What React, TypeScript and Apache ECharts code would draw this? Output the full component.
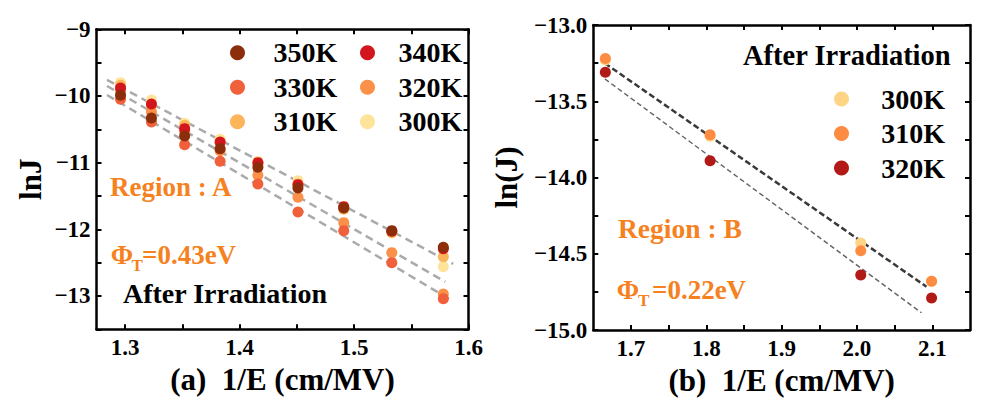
import { useEffect, useRef } from "react";
import * as echarts from "echarts";

// ---- data ----
const LEFT_X = [1.296, 1.323, 1.352, 1.383, 1.416, 1.451, 1.491, 1.533, 1.578];
const LEFT_350K = [-9.99, -10.33, -10.6, -10.79, -11.07, -11.38, -11.68, -12.02, -12.27];
const LEFT_340K = [-9.88, -10.12, -10.49, -10.69, -11.0, -11.33, -11.66, -12.03, -12.29];
const LEFT_330K = [-10.05, -10.39, -10.73, -10.98, -11.32, -11.74, -12.02, -12.5, -13.04];
const LEFT_320K = [-9.93, -10.24, -10.53, -10.82, -11.19, -11.52, -11.9, -12.35, -12.97];
const LEFT_310K = [-9.84, -10.15, -10.44, -10.7, -11.02, -11.32, -11.7, -12.05, -12.41];
const LEFT_300K = [-9.8, -10.06, -10.41, -10.65, -10.98, -11.27, -11.66, -12.04, -12.56];
const LEFT_FIT_TOP = [[1.2842, -9.76], [1.5866, -12.519]];
const LEFT_FIT_MID = [[1.2842, -9.85], [1.5797, -12.789]];
const LEFT_FIT_LOW = [[1.2842, -9.985], [1.5858, -13.073]];

const RIGHT_X = [1.666, 1.805, 2.005, 2.099];
const RIGHT_300K = [-13.23, -13.73, -14.43, -14.68];
const RIGHT_310K = [-13.22, -13.72, -14.48, -14.68];
const RIGHT_320K = [-13.31, -13.89, -14.64, -14.79];
const RIGHT_FIT_A = [[1.6654, -13.251], [2.0922, -14.716]];
const RIGHT_FIT_B = [[1.6654, -13.354], [2.0856, -14.887]];

const LEFT_X_LABELS = [1.3, 1.4, 1.5, 1.6];
const LEFT_X_TICKS = [1.3, 1.35, 1.4, 1.45, 1.5, 1.55, 1.6];
const LEFT_Y_LABELS = [-13, -12, -11, -10, -9];
const LEFT_Y_TICKS = [-13.5, -13, -12.5, -12, -11.5, -11, -10.5, -10, -9.5, -9];
const RIGHT_X_LABELS = [1.7, 1.8, 1.9, 2.0, 2.1];
const RIGHT_X_TICKS = [1.7, 1.75, 1.8, 1.85, 1.9, 1.95, 2.0, 2.05, 2.1];
const RIGHT_Y_LABELS = [-15, -14.5, -14, -13.5, -13];
const RIGHT_Y_TICKS = [-15, -14.75, -14.5, -14.25, -14, -13.75, -13.5, -13.25, -13];

const LEGEND_LABELS: Record<string, string> = {
  a350: "350K", a340: "340K", a330: "330K", a320: "320K", a310: "310K", a300: "300K",
  b300: "300K", b310: "310K", b320: "320K",
};

const FONT = "'Liberation Serif', 'Times New Roman', serif";
const ORANGE = "#f5821f";

const pairs = (xs: number[], ys: number[]) => xs.map((x, i) => [x, ys[i]]);
const minus = (s: string) => s.replace("-", "\u2212");

function axis(
  grid: number,
  kind: "x" | "y",
  position: string,
  min: number,
  max: number,
  ticks: number[],
  labels: number[] | null,
  digits: number,
  name?: string,
  nameGap?: number,
) {
  return {
    type: "value",
    gridIndex: grid,
    position,
    min,
    max,
    name: name ?? "",
    nameLocation: "middle",
    nameGap: nameGap ?? 0,
    nameTextStyle: {
      fontFamily: FONT,
      fontWeight: "bold",
      fontSize: 31,
      color: "#000",
    },
    splitLine: { show: false },
    axisLine: { show: true, onZero: false, lineStyle: { color: "#000", width: 2.5 } },
    axisTick: {
      show: true,
      inside: true,
      length: 5,
      lineStyle: { color: "#000", width: 2 },
      customValues: ticks,
    },
    axisLabel: labels
      ? {
          show: true,
          customValues: labels,
          margin: kind === "x" ? 7 : 6,
          fontFamily: FONT,
          fontWeight: "bold",
          fontSize: 23,
          color: "#000",
          formatter: (v: number) => minus(v.toFixed(digits)),
        }
      : { show: false },
  };
}

function scatter(name: string, color: string, xi: number, xs: number[], ys: number[]) {
  return {
    type: "scatter",
    name,
    xAxisIndex: xi,
    yAxisIndex: xi,
    symbol: "circle",
    symbolSize: 11,
    itemStyle: { color, opacity: 1 },
    data: pairs(xs, ys),
    z: 3,
  };
}

function fit(xi: number, pts: number[][], color: string, width: number, dash: number[]) {
  return {
    type: "line",
    xAxisIndex: xi,
    yAxisIndex: xi,
    symbol: "none",
    silent: true,
    lineStyle: { color, width, type: dash },
    data: pts,
    z: 2,
  };
}

function text(x: number, y: number, t: string, color: string, size: number) {
  return {
    type: "text",
    x,
    y,
    z: 10,
    style: {
      text: t,
      fill: color,
      font: `bold ${size}px ${FONT}`,
      verticalAlign: "middle",
      textVerticalAlign: "middle",
    },
  };
}

const legendText = {
  fontFamily: FONT,
  fontWeight: "bold",
  fontSize: 28,
  lineHeight: 28.5,
  color: "#000",
};

function legend(left: number, top: number, itemWidth: number, data: string[]) {
  return {
    orient: "vertical",
    left,
    top,
    padding: 0,
    itemGap: 6,
    itemWidth,
    itemHeight: 15,
    icon: "circle",
    selectedMode: false,
    textStyle: legendText,
    formatter: (n: string) => LEGEND_LABELS[n] ?? n,
    data,
  };
}

export default function App() {
  const ref = useRef<HTMLDivElement | null>(null);

  useEffect(() => {
    const el = ref.current;
    if (!el) return;
    const chart = echarts.init(el, undefined, { renderer: "svg" });

    chart.setOption({
      animation: false,
      backgroundColor: "#fff",
      grid: [
        { left: 96.5, top: 29.3, width: 372, height: 300 },
        { left: 593.3, top: 25, width: 376.7, height: 305 },
      ],
      xAxis: [
        axis(0, "x", "bottom", 1.275, 1.6, LEFT_X_TICKS, LEFT_X_LABELS, 1, "(a)  1/E (cm/MV)", 26),
        axis(0, "x", "top", 1.275, 1.6, LEFT_X_TICKS, null, 1),
        axis(1, "x", "bottom", 1.65, 2.15, RIGHT_X_TICKS, RIGHT_X_LABELS, 1, "(b)  1/E (cm/MV)", 26),
        axis(1, "x", "top", 1.65, 2.15, RIGHT_X_TICKS, null, 1),
      ],
      yAxis: [
        axis(0, "y", "left", -13.5, -9, LEFT_Y_TICKS, LEFT_Y_LABELS, 0, "lnJ", 51),
        axis(0, "y", "right", -13.5, -9, LEFT_Y_TICKS, null, 0),
        axis(1, "y", "left", -15, -13, RIGHT_Y_TICKS, RIGHT_Y_LABELS, 1, "ln(J)", 71),
        axis(1, "y", "right", -15, -13, RIGHT_Y_TICKS, null, 1),
      ],
      legend: [
        legend(230, 38.5, 62, ["a350", "a330", "a310"]),
        legend(360, 38.5, 52, ["a340", "a320", "a300"]),
        legend(834, 84.75, 69.4, ["b300", "b310", "b320"]),
      ],
      series: [
        fit(0, LEFT_FIT_TOP, "#aaaaaa", 2.5, [8, 5]),
        fit(0, LEFT_FIT_MID, "#aaaaaa", 2.5, [8, 5]),
        fit(0, LEFT_FIT_LOW, "#aaaaaa", 2.5, [8, 5]),
        scatter("a300", "#fee39b", 0, LEFT_X, LEFT_300K),
        scatter("a310", "#fcb55a", 0, LEFT_X, LEFT_310K),
        scatter("a320", "#fb9149", 0, LEFT_X, LEFT_320K),
        scatter("a330", "#f0603a", 0, LEFT_X, LEFT_330K),
        scatter("a340", "#d3151e", 0, LEFT_X, LEFT_340K),
        scatter("a350", "#8c2d0c", 0, LEFT_X, LEFT_350K),
        fit(2, RIGHT_FIT_A, "#3a3a3a", 2.5, [6, 3]),
        fit(2, RIGHT_FIT_B, "#666666", 1.5, [5, 3]),
        scatter("b300", "#fdd585", 2, RIGHT_X, RIGHT_300K),
        scatter("b310", "#fd8b41", 2, RIGHT_X, RIGHT_310K),
        scatter("b320", "#b21a17", 2, RIGHT_X, RIGHT_320K),
      ],
      graphic: [
        text(110, 187, "Region : A", ORANGE, 27),
        text(110.7, 255, "\u03a6", ORANGE, 27),
        text(131.5, 265, "T", ORANGE, 17),
        text(142, 255, "=0.43eV", ORANGE, 27),
        text(123, 293, "After Irradiation", "#000", 28),
        text(743, 55, "After Irradiation", "#000", 28.5),
        text(618, 228, "Region : B", ORANGE, 27.5),
        text(616.7, 290, "\u03a6", ORANGE, 27),
        text(638, 300, "T", ORANGE, 17),
        text(652, 290, "=0.22eV", ORANGE, 27),
      ],
    });

    return () => {
      chart.dispose();
    };
  }, []);

  return (
    <div
      ref={ref}
      style={{ position: "fixed", left: 0, top: 0, width: 996, height: 404, background: "#fff" }}
    />
  );
}
